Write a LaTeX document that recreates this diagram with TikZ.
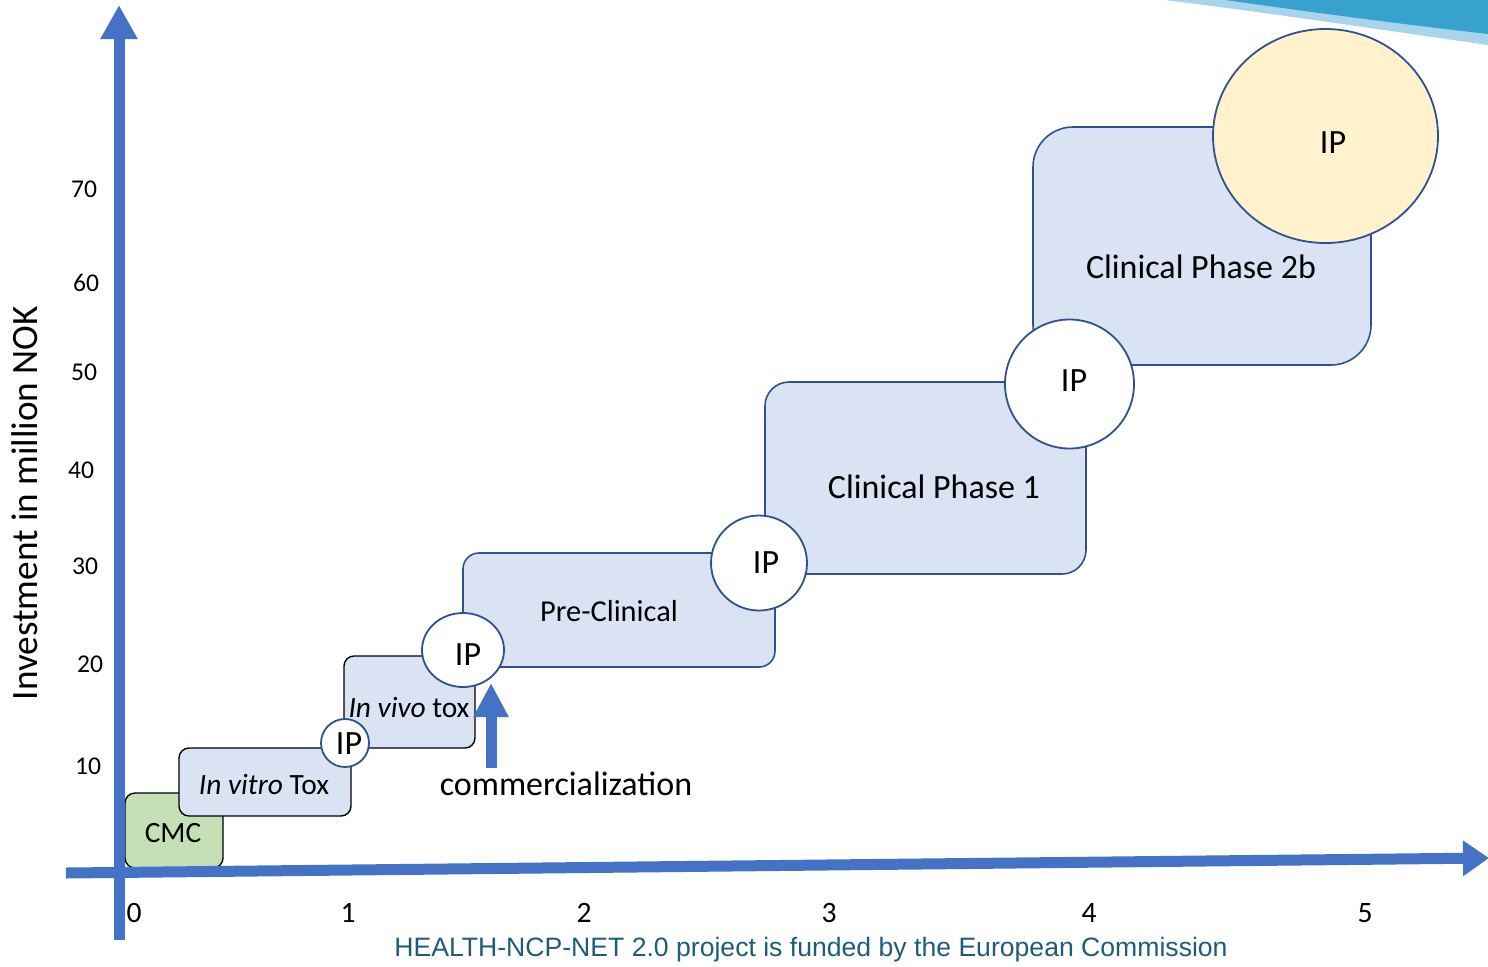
\documentclass[tikz,border=0pt]{standalone}
\usepackage{fontspec}
\setmainfont{Carlito}
\newfontfamily\footfont{Liberation Sans}
\usetikzlibrary{arrows.meta,shapes.geometric}
\definecolor{axisblue}{HTML}{4472C4}
\definecolor{boxfill}{HTML}{DAE3F3}
\definecolor{boxline}{HTML}{2F528F}
\definecolor{cmcfill}{HTML}{C5E0B4}
\definecolor{ipyellow}{HTML}{FFF2CC}
\definecolor{foot}{HTML}{1F5C78}
\definecolor{swdark}{HTML}{37A2CE}
\definecolor{swlight}{HTML}{A8D4EC}
\begin{document}
\begin{tikzpicture}[x=0.5pt,y=-0.5pt,
  stagebox/.style={draw=boxline,fill=boxfill,line width=0.8pt,inner sep=0pt},
  smallbox/.style={draw=black,fill=boxfill,line width=0.7pt,inner sep=0pt,rounded corners=5pt},
  ipcirc/.style={ellipse,draw=boxline,fill=white,line width=0.9pt,inner sep=0pt},
  lbl/.style={inner sep=0pt,font=\fontsize{17}{20}\selectfont},
  sml/.style={inner sep=0pt,font=\fontsize{14.7}{17}\selectfont},
  ytick/.style={inner sep=0pt,font=\fontsize{12.8}{15}\selectfont},
  xtick/.style={inner sep=0pt,font=\fontsize{14.8}{17}\selectfont},
  axis/.style={draw=axisblue,line width=5.5pt}]
\useasboundingbox (0,0) rectangle (1488,966);
% top swoosh
\fill[swlight] (1165,0) -- (1488,0) -- (1488,45) .. controls (1390,31) and (1270,13) .. (1165,0) -- cycle;
\fill[swdark] (1225,0) -- (1488,0) -- (1488,34) .. controls (1400,24) and (1310,12) .. (1225,0) -- cycle;
% stage boxes
\node[draw=black,fill=cmcfill,line width=0.7pt,inner sep=0pt,rounded corners=5pt,minimum width=49pt,minimum height=37.5pt] (cmc) at (174,830.5) {};
\node[smallbox,minimum width=86pt,minimum height=34pt] (vitro) at (265,782) {};
\node[smallbox,minimum width=65.5pt,minimum height=46pt] (vivo) at (409.5,702) {};
\node[stagebox,rounded corners=8pt,minimum width=156pt,minimum height=57pt] (pre) at (619,610) {};
\node[stagebox,rounded corners=12pt,minimum width=160.5pt,minimum height=96pt] (ph1) at (925.5,478) {};
\node[stagebox,rounded corners=20pt,minimum width=169pt,minimum height=119pt] (ph2) at (1202,246) {};
% IP circles
\node[ipcirc,minimum width=24pt,minimum height=24pt] (ip1) at (345,743) {};
\node[ipcirc,minimum width=41pt,minimum height=37pt] (ip2) at (463,650) {};
\node[ipcirc,minimum width=48pt,minimum height=47.5pt] (ip3) at (759,563) {};
\node[ipcirc,minimum width=64.5pt,minimum height=64.5pt] (ip4) at (1069.5,384) {};
\node[ipcirc,fill=ipyellow,minimum width=112.5pt,minimum height=107pt] (ip5) at (1325.5,136) {};
% texts
\node[sml] (cmct) at (173,833) {CMC};
\node[sml] (vitrot) at (264,784) {\textit{In vitro} Tox};
\node[sml] (vivot) at (409,707) {\textit{In vivo} tox};
\node[inner sep=0pt,font=\fontsize{15.2}{18}\selectfont] (pret) at (609,611) {Pre-Clinical};
\node[lbl] (ph1t) at (934,487) {Clinical Phase 1};
\node[lbl] (ph2t) at (1201,267) {Clinical Phase 2b};
\node[lbl] (ip1t) at (349,744) {IP};
\node[lbl] (ip2t) at (468,655) {IP};
\node[lbl] (ip3t) at (766,563) {IP};
\node[lbl] (ip4t) at (1074,381) {IP};
\node[lbl] (ip5t) at (1333,143) {IP};
\node[lbl] (comt) at (566,784) {commercialization};
% axes
\coordinate (yb) at (119,940);
\coordinate (yt) at (119,5);
\coordinate (xl) at (66,873);
\coordinate (xr) at (1489,858);
\draw[axis,-{Triangle[length=17pt,width=17.5pt]}] (yb) -- (yt);
\draw[axis,-{Triangle[length=13pt,width=17pt]}] (xl) -- (xr);
\coordinate (cb) at (491,768);
\coordinate (ct) at (491,683);
\draw[axis,-{Triangle[length=17pt,width=16.5pt]}] (cb) -- (ct);
% ticks
\node[ytick] (y70) at (84,189) {70};
\node[ytick] (y60) at (86,283) {60};
\node[ytick] (y50) at (84,372) {50};
\node[ytick] (y40) at (81,470) {40};
\node[ytick] (y30) at (85,566) {30};
\node[ytick] (y20) at (90,664) {20};
\node[ytick] (y10) at (88,766) {10};
\node[xtick] (x0) at (134,913) {0};
\node[xtick] (x1) at (348,913) {1};
\node[xtick] (x2) at (584,913) {2};
\node[xtick] (x3) at (829,913) {3};
\node[xtick] (x4) at (1089,913) {4};
\node[xtick] (x5) at (1365,913) {5};
\node[inner sep=0pt,rotate=90,font=\fontsize{18.6}{22}\selectfont] (ylab) at (25,503) {Investment in million NOK};
\node[inner sep=0pt,text=foot,font=\footfont\fontsize{13.3}{15}\selectfont] (footer) at (811,950) {HEALTH-NCP-NET 2.0 project is funded by the European Commission};
\end{tikzpicture}
\end{document}
